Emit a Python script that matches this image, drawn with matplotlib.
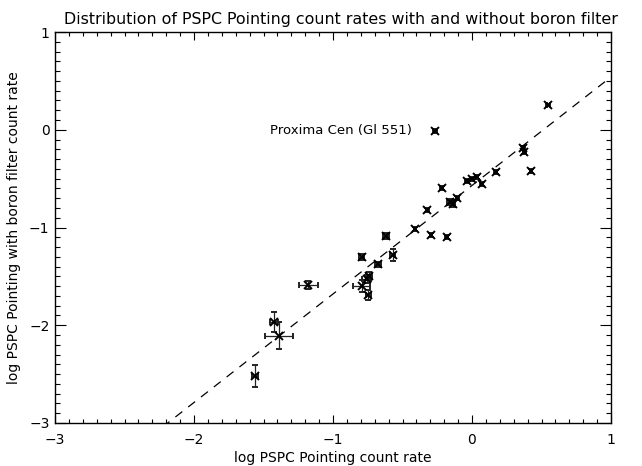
import numpy as np
import matplotlib
matplotlib.use("Agg")
import matplotlib.pyplot as plt
from matplotlib.ticker import MultipleLocator

# log count rates: without boron filter (x) and with boron filter (y)
log_rate = [-0.266, 0.549, 0.369, 0.375, 0.424, 0.170, 0.070, 0.034, -0.002,
            -0.038, -0.218, -0.106, -0.158, -0.140, -0.321, -0.410, -0.295,
            -0.182, -0.619, -0.794, -0.678, -0.571, -0.739, -0.758, -0.794,
            -0.746, -1.178, -1.424, -1.388, -1.561]
log_rate_boron = [-0.010, 0.253, -0.190, -0.230, -0.419, -0.429, -0.558,
                  -0.480, -0.507, -0.521, -0.599, -0.701, -0.736, -0.760,
                  -0.821, -1.015, -1.078, -1.100, -1.087, -1.305, -1.378,
                  -1.281, -1.496, -1.530, -1.598, -1.690, -1.588, -1.964,
                  -2.107, -2.519]
err_x = [0.01, 0.01, 0.01, 0.01, 0.01, 0.01, 0.01, 0.01, 0.01, 0.01, 0.01,
         0.01, 0.02, 0.02, 0.01, 0.01, 0.01, 0.01, 0.02, 0.02, 0.02, 0.02,
         0.02, 0.03, 0.06, 0.02, 0.07, 0.03, 0.10, 0.02]
err_y = [0.01, 0.01, 0.02, 0.02, 0.02, 0.02, 0.02, 0.02, 0.02, 0.02, 0.02,
         0.02, 0.03, 0.03, 0.02, 0.02, 0.02, 0.02, 0.03, 0.03, 0.03, 0.06,
         0.04, 0.04, 0.06, 0.05, 0.04, 0.10, 0.14, 0.11]

# linear fit drawn as dashed line
fit_slope = 1.11
fit_offset = -0.57

label_name = "Proxima Cen (Gl 551)"
label_index = 0

plt.rcParams["font.family"] = ["DejaVu Sans"]

fig = plt.figure(figsize=(6.42, 4.66), dpi=100)
ax = fig.add_axes([55 / 642, 1 - 423 / 466, 556 / 642, 391 / 466])

ax.errorbar(log_rate, log_rate_boron, xerr=err_x, yerr=err_y, fmt="x",
            color="black", ms=5.5, mew=1.4, elinewidth=0.9, capsize=2.5,
            capthick=0.9, ecolor="#222222")

xx = np.array([-3.0, 1.0])
ax.plot(xx, fit_slope * xx + fit_offset, color="black", lw=0.9,
        ls=(0, (7, 6)))

ax.text(log_rate[label_index] - 0.17, log_rate_boron[label_index],
        label_name, ha="right", va="center", fontsize=9.5)

ax.set_xlim(-3, 1)
ax.set_ylim(-3, 1)
ax.xaxis.set_major_locator(MultipleLocator(1))
ax.xaxis.set_minor_locator(MultipleLocator(0.1))
ax.yaxis.set_major_locator(MultipleLocator(1))
ax.yaxis.set_minor_locator(MultipleLocator(0.1))
ax.tick_params(axis="both", which="both", direction="in", top=True,
               right=True, labelsize=10, width=0.8, color="black")
ax.tick_params(axis="x", which="major", length=5.5, pad=7)
ax.tick_params(axis="x", which="minor", length=2.8)
ax.tick_params(axis="y", which="major", length=8, pad=4)
ax.tick_params(axis="y", which="minor", length=3.6)
for sp in ax.spines.values():
    sp.set_linewidth(1.0)

ax.set_title("Distribution of PSPC Pointing count rates with and without boron filter",
             fontsize=11.4, pad=6, x=0.515)
ax.set_xlabel("log PSPC Pointing count rate", fontsize=10, labelpad=3)
ax.set_ylabel("log PSPC Pointing with boron filter count rate", fontsize=10,
              labelpad=6)

fig.savefig("out.png", dpi=100)
